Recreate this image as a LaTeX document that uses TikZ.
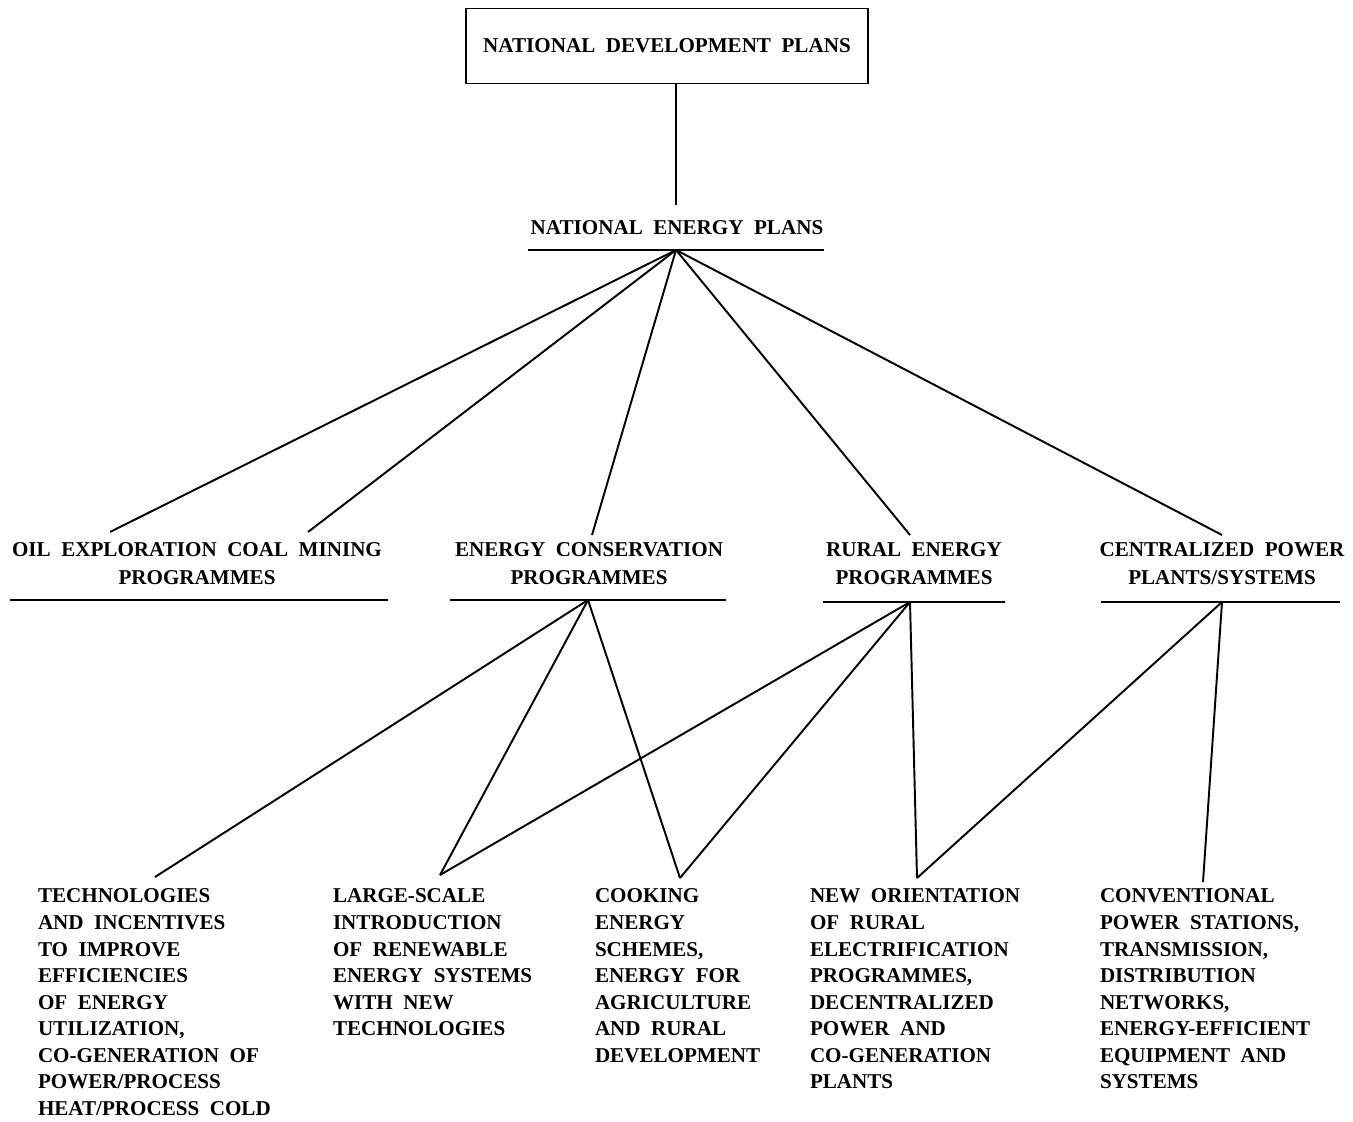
\documentclass[tikz,border=0pt]{standalone}
\usepackage{fontspec}
\setmainfont{Liberation Serif}
\usetikzlibrary{positioning, calc}

\begin{document}
\begin{tikzpicture}[x=0.2mm, y=-0.2mm, line width=1.1pt]
% Block styles
\tikzstyle{plan}=[inner sep=0pt, outer sep=0pt, black, align=center, font=\bfseries\fontsize{12}{16}\selectfont]
\tikzstyle{item}=[inner sep=0pt, outer sep=0pt, black, align=left, anchor=north west, font=\bfseries\fontsize{12}{15.1}\selectfont]
\useasboundingbox (0,0) rectangle (1353,1122);
% Top
\node[plan, draw, minimum width=402*0.2mm, minimum height=75*0.2mm] (NDP) at (667,46) {NATIONAL\ \ DEVELOPMENT\ \ PLANS};
\node[plan] (NEP) at (677,228) {NATIONAL\ \ ENERGY\ \ PLANS};
\draw (528,250) -- (824,250);
\coordinate (nep) at (676,250);
\coordinate (ndp) at (676,205);
% Row 2
\node[plan] (OIL) at (197,564) {OIL\ \ EXPLORATION\ \ COAL\ \ MINING\\PROGRAMMES};
\node[plan] (ECP) at (589,564) {ENERGY\ \ CONSERVATION\\PROGRAMMES};
\node[plan] (REP) at (914,564) {RURAL\ \ ENERGY\\PROGRAMMES};
\node[plan] (CPP) at (1222,564) {CENTRALIZED\ \ POWER\\PLANTS/SYSTEMS};
\draw (10,600) -- (388,600);
\draw (450,600) -- (726,600);
\draw (823,602) -- (1005,602);
\draw (1101,602) -- (1340,602);
\coordinate (oil1) at (110,532);
\coordinate (oil2) at (308,532);
\coordinate (ecp1) at (592,535);
\coordinate (rep1) at (910,535);
\coordinate (cpp1) at (1222,535);
\coordinate (ecp) at (588,600);
\coordinate (rep) at (910,602);
\coordinate (cpp) at (1222,602);
% Row 3
\node[item] (TEC) at (38,889) {TECHNOLOGIES\\AND\ \ INCENTIVES\\TO\ \ IMPROVE\\EFFICIENCIES\\OF\ \ ENERGY\\UTILIZATION,\\CO-GENERATION\ \ OF\\POWER/PROCESS\\HEAT/PROCESS\ \ COLD};
\node[item] (LSI) at (333,889) {LARGE-SCALE\\INTRODUCTION\\OF\ \ RENEWABLE\\ENERGY\ \ SYSTEMS\\WITH\ \ NEW\\TECHNOLOGIES};
\node[item] (CES) at (595,889) {COOKING\\ENERGY\\SCHEMES,\\ENERGY\ \ FOR\\AGRICULTURE\\AND\ \ RURAL\\DEVELOPMENT};
\node[item] (NOR) at (810,889) {NEW\ \ ORIENTATION\\OF\ \ RURAL\\ELECTRIFICATION\\PROGRAMMES,\\DECENTRALIZED\\POWER\ \ AND\\CO-GENERATION\\PLANTS};
\node[item] (CPS) at (1100,889) {CONVENTIONAL\\POWER\ \ STATIONS,\\TRANSMISSION,\\DISTRIBUTION\\NETWORKS,\\ENERGY-EFFICIENT\\EQUIPMENT\ \ AND\\SYSTEMS};
\coordinate (tec) at (155,877);
\coordinate (lsi) at (440,875);
\coordinate (ces) at (680,878);
\coordinate (nor) at (917,878);
\coordinate (cps) at (1203,882);
% Lines
\draw (NDP.south-|ndp) -- (ndp);
\draw (nep) -- (oil1);
\draw (nep) -- (oil2);
\draw (nep) -- (ecp1);
\draw (nep) -- (rep1);
\draw (nep) -- (cpp1);
\draw (ecp) -- (tec);
\draw (ecp) -- (lsi);
\draw (ecp) -- (ces);
\draw (rep) -- (lsi);
\draw (rep) -- (ces);
\draw (rep) -- (nor);
\draw (cpp) -- (nor);
\draw (cpp) -- (cps);
\end{tikzpicture}
\end{document}
